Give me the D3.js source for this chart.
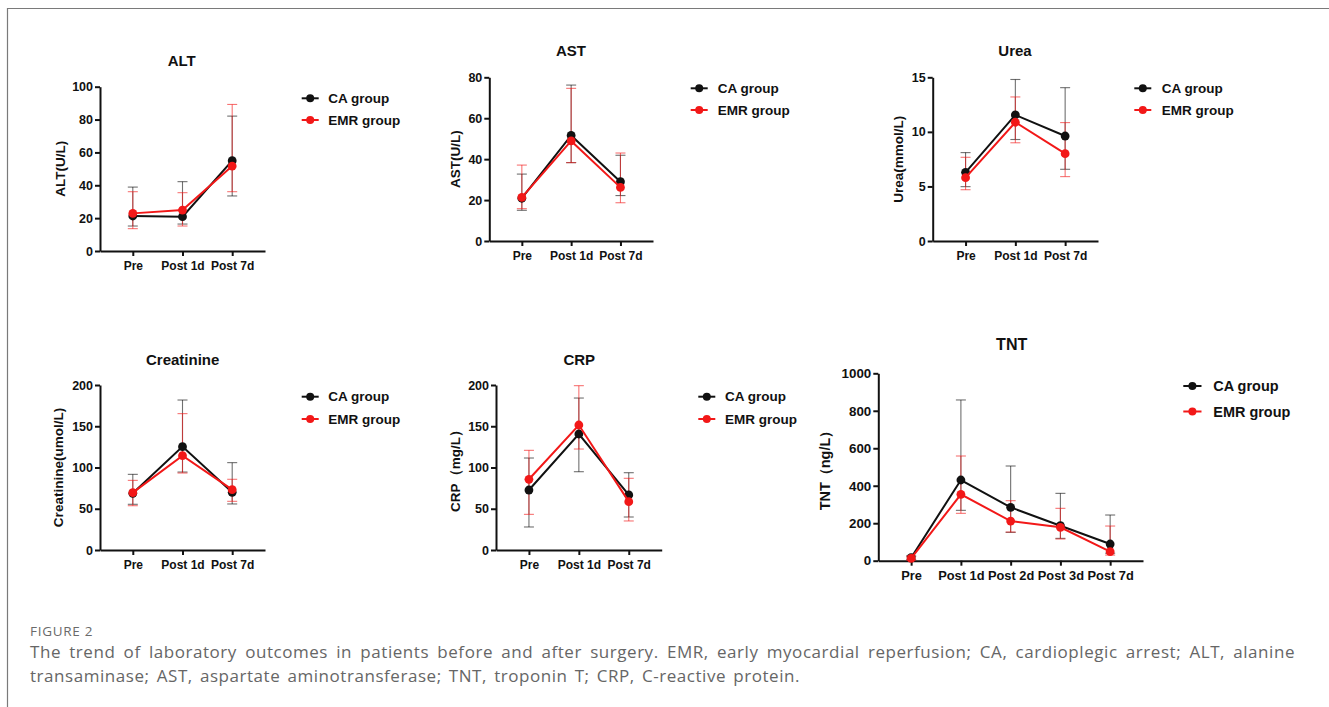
<!DOCTYPE html>
<html><head><meta charset="utf-8">
<script src="https://cdn.jsdelivr.net/npm/d3@7"></script>
<style>
html,body{margin:0;padding:0;background:#fff;}
svg{display:block;}
</style></head><body>
<svg id="c" width="1329" height="707"></svg>
<script>
// ---------- DATA ----------
const cats3 = ["Pre", "Post 1d", "Post 7d"];
const catsTNT = ["Pre", "Post 1d", "Post 2d", "Post 3d", "Post 7d"];
const groups = ["CA group", "EMR group"];

const altTicks = [0, 20, 40, 60, 80, 100];
const altCA = [21.3, 20.9, 55.0], altCAHi = [38.9, 42.2, 82.1], altCALo = [15.2, 16.4, 33.5];
const altEMR = [22.9, 24.9, 51.7], altEMRHi = [36.1, 35.5, 89.2], altEMRLo = [13.6, 15.2, 36.1];

const astTicks = [0, 20, 40, 60, 80];
const astCA = [20.9, 51.6, 29.0], astCAHi = [32.7, 76.2, 41.9], astCALo = [15.0, 38.3, 22.2];
const astEMR = [21.3, 48.9, 26.2], astEMRHi = [37.1, 74.6, 43.0], astEMRLo = [15.8, 38.3, 18.7];

const ureaTicks = [0, 5, 10, 15];
const ureaCA = [6.29, 11.55, 9.62], ureaCAHi = [8.1, 14.8, 14.05], ureaCALo = [4.98, 9.3, 6.57];
const ureaEMR = [5.80, 10.88, 8.0], ureaEMRHi = [7.67, 13.2, 10.85], ureaEMRLo = [4.70, 9.0, 5.9];

const creaTicks = [0, 50, 100, 150, 200];
const creaCA = [68.7, 125.3, 69.9], creaCAHi = [91.7, 181.8, 105.9], creaCALo = [55.4, 94.5, 55.8];
const creaEMR = [69.5, 114.3, 73.1], creaEMRHi = [84.4, 165.3, 85.7], creaEMRLo = [53.7, 93.3, 59.0];

const crpTicks = [0, 50, 100, 150, 200];
const crpCA = [72.7, 140.6, 66.7], crpCAHi = [111.5, 184.2, 93.7], crpCALo = [27.9, 94.9, 40.0];
const crpEMR = [85.7, 151.5, 58.6], crpEMRHi = [120.8, 199.2, 86.9], crpEMRLo = [43.2, 122.4, 35.2];

const tntTicks = [0, 200, 400, 600, 800, 1000];
const tntCA = [16, 430.6, 284.7, 186.8, 89], tntCAHi = [26, 857.7, 505.3, 359.4, 243.8], tntCALo = [5, 268.7, 151.2, 119.2, 40];
const tntEMR = [12, 354, 211.7, 178, 48], tntEMRHi = [22, 558.7, 320.3, 279.4, 185], tntEMRLo = [3, 252.7, 153, 115.7, 30];

const figLabel = "FIGURE 2";
const captionLines = [
  "The trend of laboratory outcomes in patients before and after surgery. EMR, early myocardial reperfusion; CA, cardioplegic arrest; ALT, alanine",
  "transaminase; AST, aspartate aminotransferase; TNT, troponin T; CRP, C-reactive protein."
];

// ---------- STYLE / LAYOUT ----------
const BLACK = "#111", RED = "#f21818";
const FONT = "'Liberation Sans', Arial, sans-serif";

const panels = [
  {title: "ALT", ylab: "ALT(U/L)", cats: cats3, ticks: altTicks,
   ca: [altCA, altCAHi, altCALo], emr: [altEMR, altEMRHi, altEMRLo],
   ax: 100, yTop: 86.7, yBot: 251, xEnd: 265, tx: 181.7, ty: 60.7, ylx: 60,
   lx: 301.7, ltx: 328.3, ly: [98.3, 120], fs: 1},
  {title: "AST", ylab: "AST(U/L)", cats: cats3, ticks: astTicks,
   ca: [astCA, astCAHi, astCALo], emr: [astEMR, astEMRHi, astEMRLo],
   ax: 489.3, yTop: 77.3, yBot: 241, xEnd: 653, tx: 571, ty: 50.7, ylx: 455,
   lx: 690.7, ltx: 717.7, ly: [88.3, 110], fs: 1},
  {title: "Urea", ylab: "Urea(mmol/L)", cats: cats3, ticks: ureaTicks,
   ca: [ureaCA, ureaCAHi, ureaCALo], emr: [ureaEMR, ureaEMRHi, ureaEMRLo],
   ax: 932.7, yTop: 77.3, yBot: 241, xEnd: 1098, tx: 1015, ty: 50.7, ylx: 898.3,
   lx: 1134.3, ltx: 1161.7, ly: [88.3, 110], fs: 1},
  {title: "Creatinine", ylab: "Creatinine(umol/L)", cats: cats3, ticks: creaTicks,
   ca: [creaCA, creaCAHi, creaCALo], emr: [creaEMR, creaEMRHi, creaEMRLo],
   ax: 100, yTop: 385, yBot: 550, xEnd: 265, tx: 182.7, ty: 359.3, ylx: 58.3,
   lx: 301.7, ltx: 328.3, ly: [396.7, 419], fs: 1},
  {title: "CRP", ylab: "CRP\uFF08mg/L\uFF09", cats: cats3, ticks: crpTicks,
   ca: [crpCA, crpCAHi, crpCALo], emr: [crpEMR, crpEMRHi, crpEMRLo],
   ax: 496, yTop: 385, yBot: 550, xEnd: 661.7, tx: 579.3, ty: 359.3, ylx: 455,
   lx: 698.3, ltx: 725, ly: [396.7, 419], fs: 1},
  {title: "TNT", ylab: "TNT\uFF08ng/L\uFF09", cats: catsTNT, ticks: tntTicks,
   ca: [tntCA, tntCAHi, tntCALo], emr: [tntEMR, tntEMRHi, tntEMRLo],
   ax: 878.3, yTop: 373.3, yBot: 560.7, xEnd: 1143, tx: 1011.7, ty: 344, ylx: 825,
   lx: 1183.3, ltx: 1213.3, ly: [386, 411.5], fs: 1.07}
];

const svg = d3.select("#c");

// frame lines
svg.append("line").attr("x1", 7.5).attr("x2", 1329).attr("y1", 8.5).attr("y2", 8.5)
  .attr("stroke", "#7a7a7a").attr("stroke-width", 1.2);
svg.append("line").attr("x1", 7.5).attr("x2", 7.5).attr("y1", 8).attr("y2", 707)
  .attr("stroke", "#7a7a7a").attr("stroke-width", 1.2);

panels.forEach(p => {
  const g = svg.append("g");
  const maxV = p.ticks[p.ticks.length - 1];
  const y = d3.scaleLinear().domain([0, maxV]).range([p.yBot, p.yTop]);
  const x = d3.scalePoint().domain(p.cats).range([p.ax, p.xEnd]).padding(0.66);

  // axes
  const yAx = g.append("g").attr("transform", `translate(${p.ax},0)`)
    .call(d3.axisLeft(y).tickValues(p.ticks).tickFormat(d3.format("d"))
      .tickSize(5).tickSizeOuter(0).tickPadding(2));
  const xAx = g.append("g").attr("transform", `translate(0,${p.yBot})`)
    .call(d3.axisBottom(x).tickSize(5).tickSizeOuter(0).tickPadding(5));
  [yAx, xAx].forEach(a => {
    a.selectAll("path, line").attr("stroke", BLACK).attr("stroke-width", 2);
    a.selectAll("text").attr("fill", BLACK).attr("font-family", FONT)
      .attr("font-weight", "bold").attr("font-size", 12.5 * p.fs);
  });
  xAx.selectAll("text").attr("font-size", 12 * p.fs);

  // title
  g.append("text").attr("x", p.tx).attr("y", p.ty).attr("text-anchor", "middle")
    .attr("dominant-baseline", "central").attr("font-family", FONT).attr("font-weight", "bold")
    .attr("font-size", 15 * p.fs).attr("fill", BLACK).text(p.title);

  // y label
  g.append("text").attr("transform", `translate(${p.ylx},${(p.yTop + p.yBot) / 2}) rotate(-90)`)
    .attr("text-anchor", "middle").attr("dominant-baseline", "central")
    .attr("font-family", FONT).attr("font-weight", "bold").attr("font-size", 13.5 * p.fs)
    .attr("fill", BLACK).text(p.ylab);

  const series = [{d: p.ca, c: BLACK}, {d: p.emr, c: RED}];
  // error bars
  series.forEach(s => {
    const [m, hi, lo] = s.d;
    const eb = g.append("g").attr("stroke", s.c).attr("stroke-opacity", 0.6).attr("stroke-width", 1.1);
    p.cats.forEach((c, i) => {
      const cx = x(c);
      eb.append("line").attr("x1", cx).attr("x2", cx).attr("y1", y(hi[i])).attr("y2", y(lo[i]));
      eb.append("line").attr("x1", cx - 5).attr("x2", cx + 5).attr("y1", y(hi[i])).attr("y2", y(hi[i]));
      eb.append("line").attr("x1", cx - 5).attr("x2", cx + 5).attr("y1", y(lo[i])).attr("y2", y(lo[i]));
    });
  });
  // lines and markers
  series.forEach(s => {
    const m = s.d[0];
    const line = d3.line().x((d, i) => x(p.cats[i])).y(d => y(d));
    g.append("path").datum(m).attr("d", line).attr("fill", "none")
      .attr("stroke", s.c).attr("stroke-width", 2);
    g.selectAll(null).data(m).enter().append("circle")
      .attr("cx", (d, i) => x(p.cats[i])).attr("cy", d => y(d)).attr("r", 4.4).attr("fill", s.c);
  });

  // legend
  groups.forEach((name, k) => {
    const c = k === 0 ? BLACK : RED;
    const ly = p.ly[k];
    g.append("line").attr("x1", p.lx).attr("x2", p.lx + 17 * p.fs).attr("y1", ly).attr("y2", ly)
      .attr("stroke", c).attr("stroke-width", 2);
    g.append("circle").attr("cx", p.lx + 8.5 * p.fs).attr("cy", ly).attr("r", 4).attr("fill", c);
    g.append("text").attr("x", p.ltx).attr("y", ly).attr("dominant-baseline", "central")
      .attr("font-family", FONT).attr("font-weight", "bold").attr("font-size", 13.5 * p.fs)
      .attr("fill", BLACK).text(name);
  });
});

// caption
const CAPFONT = "'Open Sans', 'Noto Sans', sans-serif";
const capX = 30, capRight = 1295, line2Right = 800;
svg.append("text").attr("x", capX).attr("y", 636).attr("font-family", CAPFONT)
  .attr("font-size", 13.5).attr("fill", "#6a6a6a").attr("letter-spacing", 0.7).text(figLabel);

const capSize = 17, capLS = 0.55;
captionLines.forEach((ln, li) => {
  const yb = [658, 682][li];
  const words = ln.split(" ");
  const tg = svg.append("g");
  const nodes = words.map(w => tg.append("text").attr("y", yb).attr("font-family", CAPFONT)
    .attr("font-size", capSize).attr("letter-spacing", capLS).attr("fill", "#666").text(w));
  const widths = nodes.map(n => n.node().getComputedTextLength());
  const total = d3.sum(widths);
  const right = li === 0 ? capRight : line2Right;
  const gap = (right - capX - total) / (words.length - 1);
  let cx = capX;
  nodes.forEach((n, i) => { n.attr("x", cx); cx += widths[i] + gap; });
});
</script>
</body></html>
